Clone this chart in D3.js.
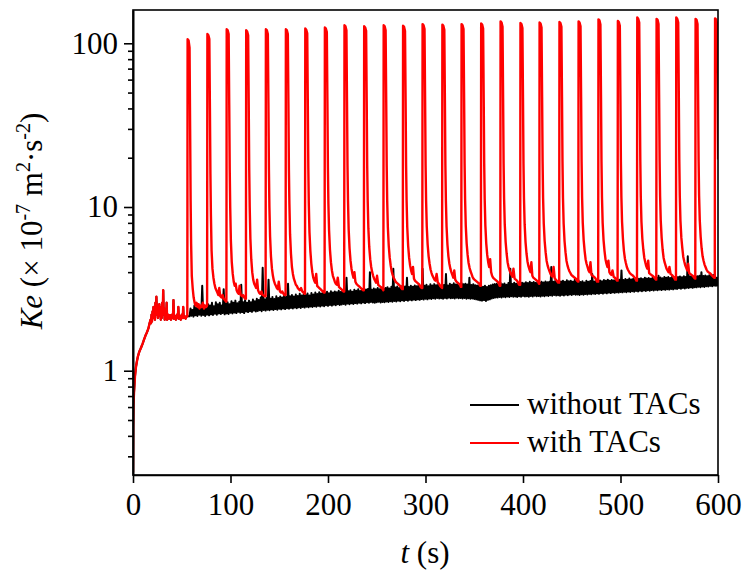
<!DOCTYPE html>
<html><head><meta charset="utf-8">
<script src="https://cdn.jsdelivr.net/npm/d3@7"></script>
<style>
body{margin:0;background:#fff;}
svg text{font-family:"Liberation Serif","Times New Roman",serif;fill:#000;}
</style>
</head><body>
<svg id="c" width="743" height="574" font-family="Liberation Serif"></svg>
<script>
// ---------------- data ----------------
const xTicks = [0, 100, 200, 300, 400, 500, 600];
const yMajorTicks = [1, 10, 100];
const yMinorTicks = [0.3, 0.4, 0.5, 0.6, 0.7, 0.8, 0.9, 2, 3, 4, 5, 6, 7, 8, 9, 20, 30, 40, 50, 60, 70, 80, 90];
const seriesNames = ["without TACs", "with TACs"];
const seriesColors = ["#000000", "#ff0000"];

// common start-up phase (both runs identical before actuation), [t, Ke]
const earlyData = [
 [0,0.24],[0.2,0.45],[0.5,0.62],[1,0.73],[2,0.92],[3,1.05],[4,1.14],[5,1.22],[6,1.28],[7,1.33],
 [8,1.37],[9,1.42],[10,1.47],[11,1.53],[12,1.59],[13,1.65],[14,1.7],[15,1.76],[16,1.83],[17,1.95],
 [18,2.05],[18.5,1.95],[19,2.2],[19.5,2.0],[20,2.3],[20.5,2.1],[21,2.45],[21.5,2.15],[22,2.35],[22.5,2.05],
 [23,2.6],[23.5,2.2],[24,2.83],[24.5,2.25],[25,2.5],[25.5,2.1],[26,2.4],[26.5,2.2],[27,2.55],[27.5,2.15],
 [28,2.45],[28.5,2.05],[29,2.35],[29.5,2.1],[30,2.6],[30.5,2.3],[31,3.1],[31.5,2.2],[32,2.4],[32.5,2.05],
 [33,2.25],[34,2.1],[34.5,2.6],[35,2.05],[36,2.2],[37,2.08],[38,2.18],[39,2.05],[40,2.2],[41,2.1],
 [41.5,2.7],[42,2.08],[43,2.15],[44,2.05],[45,2.2],[46,2.1],[46.5,2.45],[47,2.08],[48,2.15],[49,2.05],
 [50,2.2],[51,2.1],[51.5,2.45],[52,2.1],[53,2.15],[54,2.08],[55,2.15]
];

// "without TACs" after 58 s: low / high sample of each 2 s step (58, 60, ..., 600)
const blackStart = 58, blackStep = 2;
const blackLow = [
 2.15,2.17,2.14,2.18,2.16,2.2,2.17,2.19,2.16,2.2,
 2.18,2.21,2.19,2.23,2.2,2.24,2.22,2.25,2.21,2.24,
 2.22,2.26,2.24,2.27,2.25,2.29,2.26,2.28,2.25,2.3,
 2.28,2.31,2.29,2.33,2.3,2.32,2.34,2.31,2.35,2.33,
 2.36,2.34,2.37,2.35,2.38,2.36,2.39,2.37,2.4,2.38,
 2.41,2.39,2.42,2.4,2.43,2.41,2.44,2.42,2.45,2.43,
 2.46,2.44,2.47,2.45,2.48,2.46,2.49,2.47,2.5,2.48,
 2.51,2.49,2.52,2.5,2.53,2.51,2.55,2.52,2.54,2.56,
 2.53,2.57,2.55,2.58,2.56,2.59,2.57,2.6,2.58,2.61,
 2.59,2.62,2.6,2.63,2.61,2.6,2.62,2.64,2.61,2.63,
 2.62,2.65,2.63,2.66,2.64,2.67,2.65,2.68,2.66,2.69,
 2.67,2.7,2.68,2.71,2.69,2.72,2.7,2.73,2.71,2.74,
 2.72,2.75,2.73,2.76,2.74,2.77,2.75,2.78,2.76,2.77,
 2.75,2.78,2.76,2.79,2.77,2.78,2.76,2.79,2.77,2.78,
 2.76,2.78,2.75,2.77,2.75,2.76,2.74,2.73,2.71,2.69,
 2.68,2.7,2.67,2.71,2.73,2.76,2.78,2.8,2.8,2.82,
 2.8,2.83,2.81,2.84,2.82,2.85,2.83,2.84,2.82,2.85,
 2.83,2.86,2.84,2.85,2.83,2.86,2.84,2.87,2.85,2.86,
 2.84,2.87,2.85,2.88,2.86,2.89,2.87,2.9,2.88,2.89,
 2.87,2.9,2.88,2.91,2.89,2.92,2.9,2.93,2.91,2.92,
 2.9,2.93,2.91,2.94,2.92,2.95,2.93,2.96,2.94,2.97,
 2.95,2.98,2.96,2.99,2.97,3.0,2.98,3.01,2.99,3.02,
 3.0,3.03,3.01,3.04,3.02,3.05,3.03,3.06,3.04,3.07,
 3.05,3.08,3.06,3.09,3.07,3.1,3.08,3.11,3.09,3.12,
 3.1,3.13,3.11,3.14,3.12,3.15,3.13,3.16,3.14,3.17,
 3.16,3.19,3.17,3.2,3.18,3.21,3.2,3.23,3.21,3.24,
 3.23,3.26,3.24,3.27,3.25,3.28,3.27,3.3,3.28,3.31,
 3.3,3.32
];
const blackHigh = [
 2.4,2.35,2.5,2.42,2.55,2.45,3.3,2.5,2.45,2.55,
 2.5,2.6,2.48,2.62,2.55,2.6,2.5,3.15,2.58,2.62,
 2.55,2.66,2.6,2.68,2.58,2.64,3.35,2.62,2.7,2.6,
 2.68,2.62,2.72,2.66,2.75,2.7,2.8,4.25,2.72,2.78,
 3.6,2.75,2.82,2.74,2.85,2.78,2.84,2.8,2.88,2.82,
 3.4,2.85,2.9,2.84,2.92,2.86,2.95,2.88,2.92,2.9,
 2.96,2.88,2.98,2.92,3.0,2.94,3.02,2.96,3.0,2.98,
 3.04,2.97,3.06,3.0,3.05,3.02,3.08,3.03,3.1,3.04,
 3.7,3.06,3.1,3.04,3.12,3.08,3.14,3.07,3.15,3.1,
 3.13,3.16,4.0,3.12,3.18,3.14,3.2,3.15,3.22,3.17,
 3.2,3.24,3.18,3.26,4.2,3.22,3.27,3.2,3.28,3.24,
 3.27,3.7,3.25,3.3,3.26,3.32,3.28,3.34,3.27,4.2,
 3.3,3.35,3.28,3.37,3.31,3.38,3.33,3.36,3.3,3.4,
 3.34,3.9,3.32,3.4,3.35,3.42,3.36,3.4,3.34,3.42,
 3.38,3.4,3.36,3.7,3.34,3.38,3.33,3.32,3.3,3.28,
 3.26,3.3,3.25,3.3,3.33,3.36,3.38,3.4,3.38,3.44,
 3.37,3.41,3.35,3.43,4.2,3.39,3.45,3.4,3.43,3.41,
 3.45,3.42,3.47,3.43,3.49,3.45,3.48,3.44,3.5,3.45,
 3.49,3.46,3.51,3.47,3.5,4.3,3.49,3.53,3.48,3.55,
 3.51,3.54,3.49,3.57,3.52,3.55,3.5,3.58,3.53,3.56,
 3.48,3.52,3.46,3.54,3.5,3.53,3.9,3.51,3.55,3.5,
 3.56,3.52,3.58,3.54,3.6,3.55,3.58,3.56,3.62,3.58,
 3.6,4.1,3.58,3.63,3.6,3.66,3.61,3.64,3.62,3.68,
 3.64,3.67,3.63,3.7,3.66,3.68,3.65,3.72,3.67,3.7,
 3.8,3.71,3.67,3.74,3.7,3.73,3.69,3.76,3.72,3.74,
 3.73,3.76,3.72,3.78,3.74,5.0,3.76,3.8,3.75,3.78,
 3.78,3.8,4.0,3.79,3.82,3.78,3.83,3.8,3.84,3.78,
 3.7,3.6
];

// "with TACs": spike onset times (s), sample times relative to onset (s), and values per spike
const spikeOnsets = [56.0,76.3,96.1,116.1,136.3,156.8,176.7,196.8,216.9,237.1,257.1,277.0,297.0,317.3,
 337.0,357.1,377.0,397.4,417.0,437.4,457.0,477.4,497.3,517.2,537.0,557.2,577.0,597.0];
const spikeOffsets = [-0.3,0,1.0,2.0,2.6,3.1,3.6,4.3,5.2,6.2,7.2,8.2,9.2,10.2,11.2,12.2,13.2,14.4,15.6,16.8,18,19];
const spikeValues = [
 [2.15,106,104,94,30,11,6,3.8,3.2,2.8,2.6,2.5,2.6,2.45,2.55,2.4,2.5,2.45,2.6,2.4,2.5,2.45],
 [2.5,114,112,106,40,16,9,5.4,4.2,3.7,3.4,3.2,3.1,3.0,2.9,3.2,2.85,2.8,2.9,2.75,2.7,2.65],
 [2.65,122,120,114,42,17,10,6.2,4.6,3.9,3.5,3.3,3.4,3.1,3.0,2.95,3.3,2.9,2.85,2.9,2.8,2.75],
 [2.75,120,118,112,42,17,10,6.4,4.8,4.0,3.6,3.4,3.3,3.2,3.6,3.1,3.0,2.95,3.05,2.9,2.88,2.85],
 [2.85,122,120,114,43,17,10,6.6,5.0,4.2,3.8,3.55,3.4,3.3,3.2,3.15,3.5,3.05,3.0,3.05,2.95,2.9],
 [2.9,122,120,114,43,17,10.5,6.8,5.2,4.3,3.9,3.65,3.5,3.35,3.3,3.2,3.15,3.1,3.2,3.05,3.0,2.95],
 [2.95,123,121,115,43,17.5,10.5,7,5.4,4.5,4.0,3.7,3.55,3.45,3.9,3.3,3.25,3.2,3.15,3.1,3.05,3.0],
 [3.0,125,123,117,44,17.5,10.5,7.2,5.5,4.6,4.1,3.8,3.65,3.5,3.4,3.35,3.7,3.25,3.2,3.15,3.1,3.05],
 [3.05,129,127,120,44,18,11,7.3,5.6,4.7,4.2,3.9,3.7,4.0,3.5,3.4,3.35,3.3,3.25,3.2,3.15,3.1],
 [3.1,127,125,119,44,18,11,7.4,5.7,4.8,4.3,4.0,3.8,3.65,3.55,3.45,3.8,3.35,3.3,3.25,3.2,3.15],
 [3.1,129,127,120,45,18,11,7.5,5.8,4.9,4.4,4.05,3.85,3.7,3.6,3.5,3.45,3.4,3.35,3.3,3.2,3.15],
 [3.15,128,126,119,45,18,11,7.5,5.8,4.9,4.4,4.1,3.9,4.3,3.65,3.55,3.5,3.45,3.4,3.35,3.25,3.2],
 [3.2,131,129,122,45,18,11,7.6,5.9,5.0,4.5,4.15,3.95,3.8,3.7,3.6,3.55,3.9,3.45,3.4,3.3,3.25],
 [3.2,130,128,121,45,18,11,7.6,5.9,5.0,4.5,4.2,4.0,3.85,3.7,4.1,3.6,3.5,3.45,3.4,3.35,3.25],
 [3.25,131,129,122,46,18.5,11.2,7.7,6.0,5.1,4.55,4.25,4.05,3.9,3.75,3.65,3.6,3.55,3.5,3.45,3.4,3.3],
 [3.3,132,130,123,46,18.5,11.2,7.7,6.0,5.1,4.6,4.3,4.8,4.0,3.8,3.7,3.65,3.6,3.55,3.5,3.42,3.3],
 [3.3,136,134,126,46,18.5,11.3,7.8,6.1,5.2,4.6,4.3,4.1,3.95,3.85,3.75,4.2,3.65,3.6,3.55,3.45,3.35],
 [3.35,133,131,124,46,18.5,11.3,7.8,6.1,5.2,4.65,4.35,4.15,4.0,4.6,3.8,3.7,3.65,3.6,3.55,3.5,3.4],
 [3.4,134,132,125,47,19,11.4,7.9,6.2,5.3,4.7,4.4,4.2,4.05,3.9,3.8,3.75,4.3,3.65,3.6,3.52,3.45],
 [3.45,135,133,126,47,19,11.4,7.9,6.2,5.3,4.7,4.4,4.2,4.05,3.95,3.85,3.8,3.75,3.7,3.65,3.55,3.5],
 [3.5,136,134,127,47,19,11.5,8,6.3,5.4,4.8,4.5,4.3,4.1,4.0,4.6,3.85,3.8,3.75,3.7,3.6,3.5],
 [3.5,140,138,130,48,19,11.5,8,6.3,5.4,4.8,4.5,4.3,4.7,4.0,3.9,3.85,4.1,3.75,3.7,3.62,3.55],
 [3.55,137,135,128,48,19,11.6,8.1,6.4,5.4,4.85,4.55,4.3,4.15,4.05,3.95,3.9,3.85,3.8,3.72,3.65,3.55],
 [3.55,144,141,134,48,19.5,11.6,8.1,6.4,5.5,4.9,4.6,4.35,4.2,4.7,3.95,3.9,3.85,3.8,3.75,3.67,3.6],
 [3.6,141,139,131,48,19.5,11.7,8.2,6.5,5.5,4.9,4.6,4.4,4.2,4.1,4.0,4.3,3.9,3.85,3.78,3.7,3.6],
 [3.6,144,141,134,49,19.5,11.7,8.2,6.5,5.6,4.95,4.65,4.4,4.25,4.1,4.5,3.95,3.9,3.85,3.8,3.72,3.65],
 [3.65,141,139,131,49,19.5,11.8,8.3,6.6,5.6,5.0,4.7,4.45,4.3,4.15,4.05,4.0,3.95,3.9,3.82,3.75,3.7],
 [3.7,142,140,132,49,19.5]
];

// ---------------- build series ----------------
const blackData = earlyData.concat(
  blackLow.flatMap((lo, i) => [[blackStart + i * blackStep, lo], [blackStart + i * blackStep + blackStep / 2, blackHigh[i]]])
);
const redData = earlyData.concat(
  spikeOnsets.flatMap((t0, k) => spikeValues[k].map((v, j) => [t0 + spikeOffsets[j], v]))
).sort((a, b) => a[0] - b[0]);

// ---------------- chart ----------------
const FONT = "Liberation Serif";
const L = 133, R = 718, T = 10, B = 475;
const svg = d3.select("#c");
const x = d3.scaleLinear().domain([0, 600]).range([L, R]);
const y = d3.scaleLog().domain([0.2307, 159.7]).range([B, T]);

svg.append("defs").append("clipPath").attr("id", "clip")
  .append("rect").attr("x", L).attr("y", T).attr("width", R - L).attr("height", B - T);

const line = d3.line().x(d => x(d[0])).y(d => y(d[1]));
const g = svg.append("g").attr("clip-path", "url(#clip)");
g.append("path").datum(blackData).attr("d", line)
  .attr("fill", "none").attr("stroke", seriesColors[0]).attr("stroke-width", 2).attr("stroke-linejoin", "round");
g.append("path").datum(redData).attr("d", line)
  .attr("fill", "none").attr("stroke", seriesColors[1]).attr("stroke-width", 2.4).attr("stroke-linejoin", "round");

// frame
svg.append("rect").attr("x", L).attr("y", T).attr("width", R - L).attr("height", B - T)
  .attr("fill", "none").attr("stroke", "#000").attr("stroke-width", 1.6);

// axes
const fs = 31;
const xAxis = svg.append("g").attr("transform", `translate(0,${B})`)
  .call(d3.axisBottom(x).tickValues(xTicks).tickSize(8).tickSizeOuter(0).tickPadding(10).tickFormat(d3.format("d")));
const yMinor = svg.append("g").attr("transform", `translate(${L},0)`)
  .call(d3.axisLeft(y).tickValues(yMinorTicks).tickSize(5).tickSizeOuter(0).tickFormat(""));
const yAxis = svg.append("g").attr("transform", `translate(${L},0)`)
  .call(d3.axisLeft(y).tickValues(yMajorTicks).tickSize(9).tickSizeOuter(0).tickPadding(6).tickFormat(d3.format("d")));
[xAxis, yAxis, yMinor].forEach(a => {
  a.attr("font-family", FONT).attr("font-size", fs);
  a.select(".domain").attr("stroke", "#000").attr("stroke-width", 1.6);
  a.selectAll(".tick line").attr("stroke", "#000").attr("stroke-width", 1.6);
  a.selectAll(".tick text").attr("font-size", fs).attr("font-family", FONT).attr("fill", "#000");
});

// axis titles
const xt = svg.append("text").attr("x", 425).attr("y", 563).attr("text-anchor", "middle")
  .attr("font-size", fs).attr("font-family", FONT);
xt.append("tspan").attr("font-style", "italic").text("t");
xt.append("tspan").text(" (s)");

const yt = svg.append("text").attr("transform", "translate(42,221) rotate(-90)")
  .attr("text-anchor", "middle").attr("font-size", fs).attr("font-family", FONT);
yt.append("tspan").attr("font-style", "italic").text("Ke");
yt.append("tspan").text(" (× 10");
yt.append("tspan").attr("font-size", 20).attr("dy", -12).text("-7");
yt.append("tspan").attr("dy", 12).text(" m");
yt.append("tspan").attr("font-size", 20).attr("dy", -12).text("2");
yt.append("tspan").attr("dy", 12).text("·s");
yt.append("tspan").attr("font-size", 20).attr("dy", -12).text("-2");
yt.append("tspan").attr("dy", 12).text(")");

// legend
const legY = [405, 443];
seriesNames.forEach((name, i) => {
  svg.append("line").attr("x1", 470).attr("x2", 519).attr("y1", legY[i]).attr("y2", legY[i])
    .attr("stroke", seriesColors[i]).attr("stroke-width", 2);
  svg.append("text").attr("x", 527).attr("y", legY[i] + 9).attr("font-size", fs)
    .attr("font-family", FONT).text(name);
});
</script>
</body></html>
